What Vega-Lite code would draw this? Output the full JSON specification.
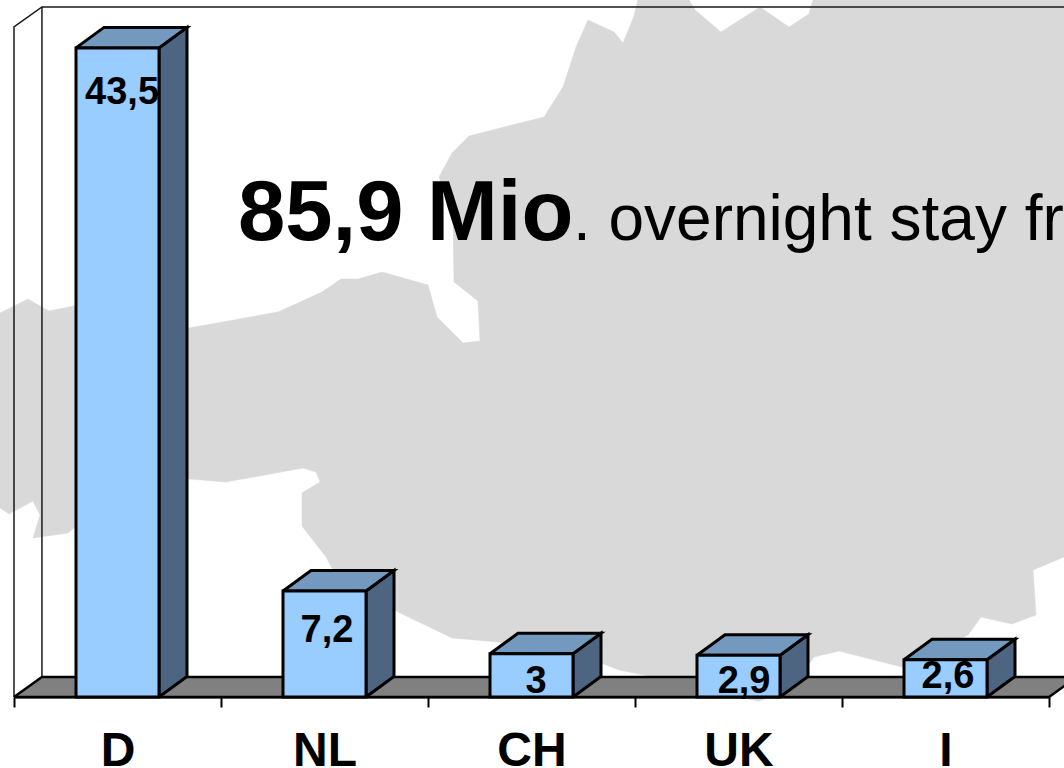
{"$schema":"https://vega.github.io/schema/vega-lite/v6.json","width":1064,"height":697,"autosize":"none","padding":{"left":0,"right":0,"top":0,"bottom":71},"background":"white","config":{"view":{"stroke":null},"font":"Liberation Sans"},
"datasets":{
"bars":[{"cat":"D","pos":0,"value":43.5,"label":"43,5"},{"cat":"NL","pos":1,"value":7.2,"label":"7,2"},{"cat":"CH","pos":2,"value":3,"label":"3"},{"cat":"UK","pos":3,"value":2.9,"label":"2,9"},{"cat":"I","pos":4,"value":2.6,"label":"2,6"}],
"map":[{"i":0,"x":638,"y":0},{"i":1,"x":634,"y":16},{"i":2,"x":623,"y":43},{"i":3,"x":614,"y":32},{"i":4,"x":588,"y":20},{"i":5,"x":576,"y":47},{"i":6,"x":563,"y":87},{"i":7,"x":544,"y":117},{"i":8,"x":469,"y":136},{"i":9,"x":452,"y":153},{"i":10,"x":439,"y":177},{"i":11,"x":453,"y":215},{"i":12,"x":454,"y":282},{"i":13,"x":478,"y":301},{"i":14,"x":480,"y":341},{"i":15,"x":463,"y":343},{"i":16,"x":437,"y":317},{"i":17,"x":428,"y":285},{"i":18,"x":382,"y":272},{"i":19,"x":358,"y":279},{"i":20,"x":341,"y":279},{"i":21,"x":322,"y":292},{"i":22,"x":278,"y":312},{"i":23,"x":217,"y":323},{"i":24,"x":189,"y":328},{"i":25,"x":74,"y":306},{"i":26,"x":49,"y":311},{"i":27,"x":28,"y":299},{"i":28,"x":0,"y":313},{"i":29,"x":0,"y":508},{"i":30,"x":9,"y":514},{"i":31,"x":33,"y":501},{"i":32,"x":40,"y":515},{"i":33,"x":33,"y":538},{"i":34,"x":68,"y":533},{"i":35,"x":74,"y":528},{"i":36,"x":189,"y":479},{"i":37,"x":226,"y":482},{"i":38,"x":303,"y":468},{"i":39,"x":316,"y":472},{"i":40,"x":320,"y":482},{"i":41,"x":302,"y":493},{"i":42,"x":302,"y":526},{"i":43,"x":326,"y":557},{"i":44,"x":332,"y":568},{"i":45,"x":394,"y":610},{"i":46,"x":452,"y":638},{"i":47,"x":498,"y":642},{"i":48,"x":601,"y":663},{"i":49,"x":619,"y":670},{"i":50,"x":644,"y":675},{"i":51,"x":700,"y":690},{"i":52,"x":759,"y":701},{"i":53,"x":790,"y":690},{"i":54,"x":814,"y":657},{"i":55,"x":839,"y":651},{"i":56,"x":902,"y":667},{"i":57,"x":968,"y":635},{"i":58,"x":981,"y":617},{"i":59,"x":1012,"y":624},{"i":60,"x":1036,"y":615},{"i":61,"x":1033,"y":570},{"i":62,"x":1064,"y":557},{"i":63,"x":1064,"y":0},{"i":64,"x":813,"y":0},{"i":65,"x":809,"y":14},{"i":66,"x":789,"y":27},{"i":67,"x":760,"y":7},{"i":68,"x":721,"y":32},{"i":69,"x":695,"y":10},{"i":70,"x":689,"y":0}],
"wall":[{"part":"a","i":0,"u":0,"v":0.114},{"part":"a","i":1,"u":0,"v":44.9},{"part":"a","i":2,"u":0.135,"v":46.24},{"part":"a","i":3,"u":5.08,"v":46.24},{"part":"b","i":0,"u":0.135,"v":46.24},{"part":"b","i":1,"u":0.135,"v":1.45}],
"floor":[{"i":0,"u":0,"v":0.114},{"i":1,"u":0.135,"v":1.45},{"i":2,"u":5.135,"v":1.45},{"i":3,"u":5,"v":0.114},{"i":4,"u":0,"v":0.114}],
"notes":[{"text":"85,9 Mio","u":1.082,"v":30.66,"kind":"bold"},{"text":". overnight stay fr","u":2.7,"v":30.66,"kind":"normal"}]
},
"layer":[
{"data":{"name":"map"},"mark":{"type":"line","fill":"#d9d9d9","stroke":"#d9d9d9","strokeWidth":0.5,"clip":false},"encoding":{"x":{"field":"x","type":"quantitative","scale":{"domain":[0,1064],"nice":false,"zero":false},"axis":null},"y":{"field":"y","type":"quantitative","scale":{"domain":[697,0],"nice":false,"zero":false},"axis":null},"order":{"field":"i","type":"quantitative"}}},
{"data":{"name":"wall"},"mark":{"type":"line","stroke":"#1a1a1a","strokeWidth":1.5,"strokeJoin":"miter"},"encoding":{"x":{"field":"u","type":"quantitative","scale":{"domain":[-0.0676,5.0725],"nice":false,"zero":false},"axis":null},"y":{"field":"v","type":"quantitative","scale":{"domain":[0.114,46.7],"nice":false,"zero":false},"axis":null},"detail":{"field":"part"},"order":{"field":"i","type":"quantitative"}}},
{"data":{"name":"floor"},"mark":{"type":"line","fill":"#808080","stroke":"black","strokeWidth":2.5,"strokeJoin":"miter"},"encoding":{"x":{"field":"u","type":"quantitative","scale":{"domain":[-0.0676,5.0725],"nice":false,"zero":false},"axis":null},"y":{"field":"v","type":"quantitative","scale":{"domain":[0.114,46.7],"nice":false,"zero":false},"axis":null},"order":{"field":"i","type":"quantitative"}}},
{"data":{"name":"bars"},"transform":[{"calculate":"[0,1,2,3,4]","as":"corner"},{"flatten":["corner"]},{"calculate":"datum.pos+0.5+0.2005+[0,0.1353,0.1353,0,0][datum.corner]","as":"u"},{"calculate":"[0.114,1.484,datum.value+1.37,datum.value,0.114][datum.corner]","as":"v"}],"mark":{"type":"line","fill":"#4d6580","stroke":"black","strokeWidth":3,"strokeJoin":"miter"},"encoding":{"x":{"field":"u","type":"quantitative","scale":{"domain":[-0.0676,5.0725],"nice":false,"zero":false},"axis":null},"y":{"field":"v","type":"quantitative","scale":{"domain":[0.114,46.7],"nice":false,"zero":false},"axis":null},"detail":{"field":"cat"},"order":{"field":"corner","type":"quantitative"}}},
{"data":{"name":"bars"},"transform":[{"calculate":"[0,1,2,3,4]","as":"corner"},{"flatten":["corner"]},{"calculate":"datum.pos+0.5+[-0.2005,-0.0652,0.3358,0.2005,-0.2005][datum.corner]","as":"u"},{"calculate":"datum.value+[0,1.37,1.37,0,0][datum.corner]","as":"v"}],"mark":{"type":"line","fill":"#7399bf","stroke":"black","strokeWidth":3,"strokeJoin":"miter"},"encoding":{"x":{"field":"u","type":"quantitative","scale":{"domain":[-0.0676,5.0725],"nice":false,"zero":false},"axis":null},"y":{"field":"v","type":"quantitative","scale":{"domain":[0.114,46.7],"nice":false,"zero":false},"axis":null},"detail":{"field":"cat"},"order":{"field":"corner","type":"quantitative"}}},
{"data":{"name":"bars"},"mark":{"type":"bar","size":83,"fill":"#99ccff","stroke":"black","strokeWidth":3},"encoding":{"x":{"field":"cat","type":"nominal","sort":null,"scale":{"type":"band","range":[14,1049],"paddingInner":0,"paddingOuter":0},"axis":{"title":null,"labelAngle":0,"tickBand":"extent","tickSize":10,"tickWidth":2,"tickColor":"black","domainColor":"black","domainWidth":2,"labelFont":"Liberation Sans","labelFontWeight":"bold","labelFontSize":48,"labelColor":"black","labelBaseline":"alphabetic","labelPadding":58,"grid":false,"zindex":1}},"y":{"field":"value","type":"quantitative","scale":{"domain":[0.114,46.7],"nice":false,"zero":false},"axis":null},"y2":{"datum":0.114}}},
{"data":{"name":"bars"},"transform":[{"calculate":"[0.522,1.512,2.522,3.527,4.512][datum.pos]","as":"u"},{"calculate":"[39.75,3.79,0.38,0.38,0.72][datum.pos]","as":"v"}],"mark":{"type":"text","font":"Liberation Sans","fontWeight":"bold","fontSize":38,"color":"black","align":"center","baseline":"alphabetic"},"encoding":{"x":{"field":"u","type":"quantitative","scale":{"domain":[-0.0676,5.0725],"nice":false,"zero":false},"axis":null},"y":{"field":"v","type":"quantitative","scale":{"domain":[0.114,46.7],"nice":false,"zero":false},"axis":null},"text":{"field":"label"}}},
{"data":{"name":"notes"},"transform":[{"filter":"datum.kind=='bold'"}],"mark":{"type":"text","font":"Liberation Sans","fontWeight":"bold","fontSize":85,"color":"black","align":"left","baseline":"alphabetic"},"encoding":{"x":{"field":"u","type":"quantitative","scale":{"domain":[-0.0676,5.0725],"nice":false,"zero":false},"axis":null},"y":{"field":"v","type":"quantitative","scale":{"domain":[0.114,46.7],"nice":false,"zero":false},"axis":null},"text":{"field":"text"}}},
{"data":{"name":"notes"},"transform":[{"filter":"datum.kind=='normal'"}],"mark":{"type":"text","font":"Liberation Sans","fontSize":64,"color":"black","align":"left","baseline":"alphabetic"},"encoding":{"x":{"field":"u","type":"quantitative","scale":{"domain":[-0.0676,5.0725],"nice":false,"zero":false},"axis":null},"y":{"field":"v","type":"quantitative","scale":{"domain":[0.114,46.7],"nice":false,"zero":false},"axis":null},"text":{"field":"text"}}}
],
"resolve":{"scale":{"x":"independent","y":"independent"}}}
